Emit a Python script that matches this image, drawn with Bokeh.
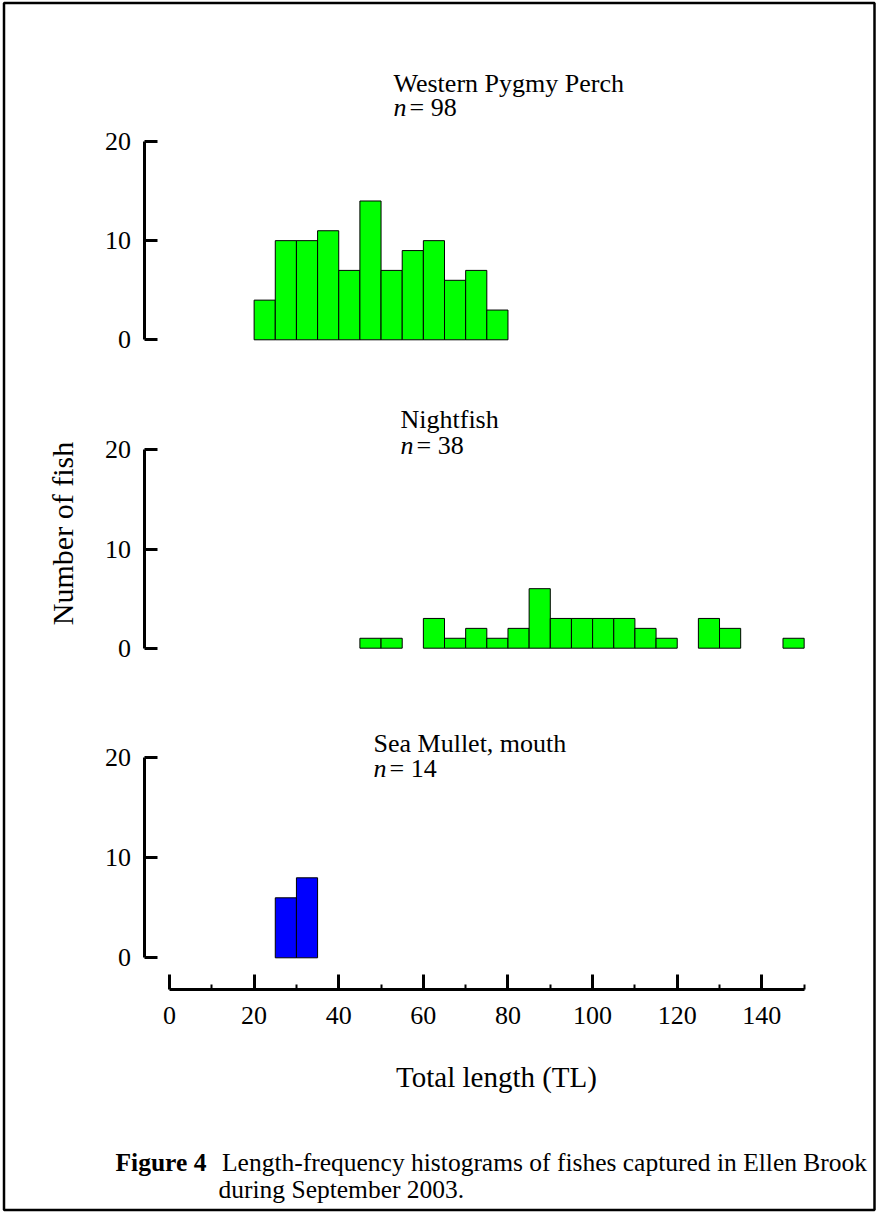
import numpy as np
from bokeh.plotting import figure
from bokeh.models import Range1d, LinearAxis, FixedTicker, ColumnDataSource
from bokeh.core.properties import value
from bokeh.embed import file_html
from bokeh.resources import INLINE

# ---------------- data ----------------
bin_width = 5
wpp_bins = [20, 25, 30, 35, 40, 45, 50, 55, 60, 65, 70, 75]
wpp_counts = [4, 10, 10, 11, 7, 14, 7, 9, 10, 6, 7, 3]
night_bins = [45, 50, 60, 65, 70, 75, 80, 85, 90, 95, 100, 105, 110, 115, 125, 130, 145]
night_counts = [1, 1, 3, 1, 2, 1, 2, 6, 3, 3, 3, 3, 2, 1, 3, 2, 1]
mullet_bins = [25, 30]
mullet_counts = [6, 8]

panel_titles = ["Western Pygmy Perch", "Nightfish", "Sea Mullet, mouth"]
panel_n = ["98", "38", "14"]
panel_colors = ["#00FF00", "#00FF00", "#0000FF"]

y_ticks = [0, 10, 20]
x_major_ticks = [0, 20, 40, 60, 80, 100, 120, 140]
x_minor_ticks = [10, 30, 50, 70, 90, 110, 130, 150]
x_label = "Total length (TL)"
y_label = "Number of fish"
caption_bold = "Figure 4"
caption_line1 = "Length-frequency histograms of fishes captured in Ellen Brook"
caption_line2 = "during September 2003."

# ---------------- layout (page pixels) ----------------
W, H = 876, 1212
BL, BR, BT, BB = 3.5, 874, 2.5, 1209.5    # page border
X0_PX, X_PX_PER_UNIT = 169.0, 4.231       # x = 0 position and scale
panel_y0 = [339.3, 647.7, 957.3]          # pixel of count 0
panel_y20 = [141.0, 449.3, 757.3]         # pixel of count 20
yaxis_x = 143.5
xaxis_y = 989.3
FONT = "Liberation Serif"
DY = -10                                   # text vertical correction

x_range = Range1d(-X0_PX / X_PX_PER_UNIT, (W - X0_PX) / X_PX_PER_UNIT)
p = figure(width=W, height=H, x_range=x_range, y_range=Range1d(H, 0),
           x_axis_location=None, y_axis_location=None,
           toolbar_location=None, output_backend="svg",
           min_border=0)
p.extra_x_ranges = {"page": Range1d(0, W)}
p.xgrid.grid_line_color = None
p.ygrid.grid_line_color = None
p.outline_line_color = None
p.background_fill_color = "white"
p.border_fill_color = "white"

# page border
p.quad(left=[BL], right=[BR], top=[BT], bottom=[BB], x_range_name="page",
       fill_color=None, line_color="black", line_width=2.5)

ranges = {}
for i in range(3):
    k = (panel_y0[i] - panel_y20[i]) / 20.0
    start = -(H - panel_y0[i]) / k
    end = start + H / k
    ranges[f"p{i}"] = Range1d(start, end)
p.extra_y_ranges = ranges

series = [(wpp_bins, wpp_counts), (night_bins, night_counts), (mullet_bins, mullet_counts)]
for i, (bins, counts) in enumerate(series):
    src = ColumnDataSource(dict(left=bins, right=[b + bin_width for b in bins],
                                bottom=[0] * len(bins), top=counts))
    p.quad(left="left", right="right", bottom="bottom", top="top", source=src,
           y_range_name=f"p{i}", fill_color=panel_colors[i],
           line_color="black", line_width=1)

    ax = LinearAxis(y_range_name=f"p{i}", x_range_name="page",
                    fixed_location=yaxis_x, bounds=(0, 20),
                    ticker=FixedTicker(ticks=y_ticks, minor_ticks=[]))
    ax.axis_line_width = 3
    ax.axis_line_color = "black"
    ax.major_tick_line_width = 3
    ax.major_tick_line_color = "black"
    ax.major_tick_in = 13
    ax.major_tick_out = 0
    ax.minor_tick_in = 0
    ax.minor_tick_out = 0
    ax.major_label_text_font = FONT
    ax.major_label_text_font_size = "26px"
    ax.major_label_text_color = "black"
    ax.major_label_standoff = 13
    p.add_layout(ax, "left")

xa = LinearAxis(fixed_location=xaxis_y, bounds=(0, 150),
                ticker=FixedTicker(ticks=x_major_ticks, minor_ticks=x_minor_ticks))
xa.axis_line_width = 3
xa.axis_line_color = "black"
xa.major_tick_line_width = 3
xa.major_tick_line_color = "black"
xa.major_tick_in = 15
xa.major_tick_out = 0
xa.minor_tick_line_width = 2
xa.minor_tick_line_color = "black"
xa.minor_tick_in = 5
xa.minor_tick_out = 0
xa.major_label_text_font = FONT
xa.major_label_text_font_size = "26px"
xa.major_label_text_color = "black"
xa.major_label_standoff = 17
p.add_layout(xa, "below")

# panel titles
title_x = [393, 400, 373]
title_y = [93 + DY, 429 + DY, 753 + DY]
n_y = [117 + DY, 455 + DY, 778 + DY]
p.text(x=title_x, y=title_y, text=panel_titles, x_range_name="page",
       text_font=value(FONT), text_font_size="26px", text_color="black",
       text_align="left", text_baseline="alphabetic")
p.text(x=title_x, y=n_y, text=["n"] * 3, x_range_name="page",
       text_font=value(FONT), text_font_size="26px", text_font_style="italic",
       text_color="black", text_align="left", text_baseline="alphabetic")
p.text(x=[x + 16 for x in title_x], y=n_y, text=["= " + n for n in panel_n],
       x_range_name="page", text_font=value(FONT), text_font_size="26px",
       text_color="black", text_align="left", text_baseline="alphabetic")

# axis titles
p.text(x=[62], y=[533], text=[y_label], angle=np.pi / 2, x_range_name="page",
       text_font=value(FONT), text_font_size="30px", text_color="black",
       text_align="center", text_baseline="alphabetic")
p.text(x=[496], y=[1086 + DY], text=[x_label], x_range_name="page",
       text_font=value(FONT), text_font_size="29px", text_color="black",
       text_align="center", text_baseline="alphabetic")

# caption
p.text(x=[115], y=[1172 + DY], text=[caption_bold], x_range_name="page",
       text_font=value(FONT), text_font_size="25.5px", text_font_style="bold",
       text_color="black", text_align="left", text_baseline="alphabetic")
p.text(x=[221.5, 218], y=[1172 + DY, 1199 + DY], text=[caption_line1, caption_line2],
       x_range_name="page", text_font=value(FONT), text_font_size="25.5px",
       text_color="black", text_align="left", text_baseline="alphabetic")

open("out.html", "w").write(file_html(p, INLINE))
